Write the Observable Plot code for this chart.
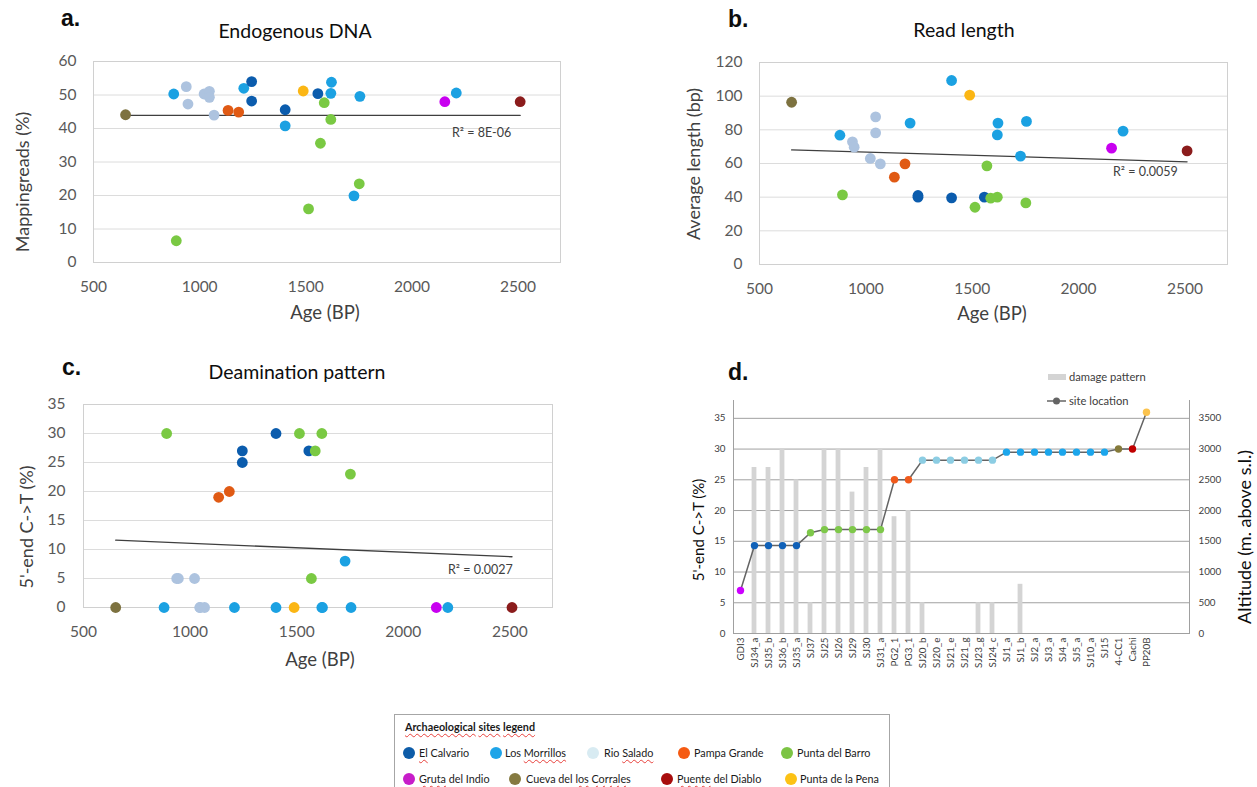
<!DOCTYPE html>
<html><head><meta charset="utf-8">
<script src="https://cdn.jsdelivr.net/npm/d3@7"></script>
<script src="https://cdn.jsdelivr.net/npm/@observablehq/plot@0.6"></script>
<style>
html,body{margin:0;padding:0;background:#fff;width:1257px;height:787px;overflow:hidden;}
#overlay{position:absolute;left:0;top:0;}
#legend{position:absolute;left:394px;top:714px;width:496px;height:90px;border:1px solid #a6a6a6;box-sizing:border-box;font-family:Lato,"Open Sans",sans-serif;font-size:10.8px;color:#1a1a1a;background:#fff;}
#legend .it{position:absolute;white-space:nowrap;line-height:12px;}
#legend .dotc{position:absolute;width:12px;height:12px;border-radius:50%;}
.sq{text-decoration:underline wavy #e8413c;text-decoration-thickness:1px;text-underline-offset:2px;}
</style></head><body>
<script>
// ---------- data ----------
const siteNames = ["El Calvario","Los Morrillos","Rio Salado","Pampa Grande","Punta del Barro","Gruta del Indio","Cueva del los Corrales","Puente del Diablo","Punta de la Pena"];
const scatterColors = ["#0b5cad","#1ba1e2","#adc3df","#e05a14","#7ac943","#c800f0","#7d7240","#8b1c1c","#fbb614"];
const locationColors = ["#1061b8","#1ca6ec","#8ccde3","#f05a1c","#7ec84a","#cc00ff","#857a3a","#c00000","#fbc34e"];
const legendColors = ["#0d5ca8","#1ea4e8","#d8ebf2","#f55a12","#7cc444","#c71dc9","#857a41","#a80d0d","#fcc215"];

const scatterSite = [
  "Cueva del los Corrales",
  "Los Morrillos","Los Morrillos","Los Morrillos","Los Morrillos","Los Morrillos","Los Morrillos","Los Morrillos","Los Morrillos",
  "Rio Salado","Rio Salado","Rio Salado","Rio Salado","Rio Salado","Rio Salado",
  "Pampa Grande","Pampa Grande",
  "El Calvario","El Calvario","El Calvario","El Calvario",
  "Punta del Barro","Punta del Barro","Punta del Barro","Punta del Barro","Punta del Barro","Punta del Barro",
  "Punta de la Pena","Gruta del Indio","Puente del Diablo"];
const scatterAge   = [651, 878,1208,1403,1618,1621,1727,1755,2209, 937,945,1021,1046,1046,1068, 1134,1184, 1245,1245,1403,1557, 890,1513,1569,1587,1618,1752, 1488,2155,2510];
const mappingReads = [44.1, 50.3,52,40.8,50.5,53.8,19.9,49.6,50.6, 52.5,47.3,50.3,51.1,49.3,44, 45.4,44.9, 54,48.2,45.6,50.4, 6.5,16,35.6,47.7,42.7,23.5, 51.2,48,48];
const readLength   = [96.4, 76.8,84,109.3,77,84,64.4,85,79.2, 72.9,69.7,63,87.7,78.2,59.8, 51.9,59.8, 41,40,39.6,40, 41.4,34,58.6,39.4,40,36.6, 100.6,69.1,67.5];
const deamination  = [0, 0,0,0,0,0,8,0,0, 5,5,5,0,0,0, 19,20, 27,25,30,27, 30,30,5,27,30,23, 0,0,0];

const ageTicks = [500,1000,1500,2000,2500];
const endoTicks = [0,10,20,30,40,50,60];
const lenTicks = [0,20,40,60,80,100,120];
const deamTicks = [0,5,10,15,20,25,30,35];

const trendAges = [651, 2510];
const trendEndo = [43.9, 43.9];
const trendLen = [68.1, 61.0];
const trendDeam = [11.6, 8.75];

const sampleNames = ["GDI3","SJ34_a","SJ35_b","SJ36_b","SJ35_a","SJ37","SJ25","SJ26","SJ29","SJ30","SJ31_a","PG2_1","PG3_1","SJ20_b","SJ20_e","SJ21_e","SJ21_g","SJ23_g","SJ24_c","SJ1_a","SJ1_b","SJ2_a","SJ3_a","SJ4_a","SJ5_a","SJ10_a","SJ15","4-CC1","Cachi","PP20B"];
const sampleSite = ["Gruta del Indio","El Calvario","El Calvario","El Calvario","El Calvario",
  "Punta del Barro","Punta del Barro","Punta del Barro","Punta del Barro","Punta del Barro","Punta del Barro",
  "Pampa Grande","Pampa Grande",
  "Rio Salado","Rio Salado","Rio Salado","Rio Salado","Rio Salado","Rio Salado",
  "Los Morrillos","Los Morrillos","Los Morrillos","Los Morrillos","Los Morrillos","Los Morrillos","Los Morrillos","Los Morrillos",
  "Cueva del los Corrales","Puente del Diablo","Punta de la Pena"];
const damagePattern = [0,27,27,30,25,5,30,30,23,27,30,19,20,5,0,0,0,5,5,0,8,0,0,0,0,0,0,0,0,0];
const altitude = [700,1430,1430,1430,1430,1640,1690,1690,1690,1690,1690,2500,2500,2820,2820,2820,2820,2820,2820,2950,2950,2950,2950,2950,2950,2950,2950,3000,3000,3600];
const altTicks = [0,500,1000,1500,2000,2500,3000,3500];

// ---------- build tables ----------
const FONT = "Lato, 'Open Sans', sans-serif";
const samples = scatterSite.map((s,i)=>({site:s, age:scatterAge[i], endo:mappingReads[i], len:readLength[i], deam:deamination[i]}));
const trend = vals => trendAges.map((a,i)=>({age:a, value:vals[i]}));
const dSamples = sampleNames.map((n,i)=>({name:n, site:sampleSite[i], damage:damagePattern[i], alt:altitude[i]}));

function place(node, left, top){
  node.style.position = "absolute";
  node.style.left = left + "px";
  node.style.top = top + "px";
  document.body.appendChild(node);
}

function scatterPanel(cfg){
  const p = Plot.plot({
    width: cfg.w, height: cfg.h,
    marginLeft: cfg.ml, marginRight: cfg.mr, marginTop: cfg.mt, marginBottom: cfg.mb,
    style: {fontFamily: FONT, fontSize: "15.5px", color: "#595959", background: "transparent", overflow: "visible"},
    x: {domain: [500, 2700]},
    y: {domain: cfg.yDomain},
    color: {domain: siteNames, range: scatterColors},
    marks: [
      Plot.gridY(cfg.yTicks, {stroke: "#dcdcdc", strokeOpacity: 1}),
      Plot.frame({stroke: "#d0d0d0"}),
      Plot.axisX(ageTicks, {tickSize: 0, tickPadding: 18, label: null, fontSize: 15.5, tickFormat: d => String(d)}),
      Plot.axisY(cfg.yTicks, {tickSize: 0, tickPadding: cfg.yPad, label: null, fontSize: 15.5, tickFormat: d => String(d)}),
      Plot.line(cfg.trend, {x: "age", y: "value", stroke: "#3f3f3f", strokeWidth: 1.3}),
      Plot.dot(samples, {x: "age", y: cfg.key, fill: "site", r: 5.4})
    ]
  });
  place(p, cfg.left, cfg.top);
}

scatterPanel({left:0, top:0, w:600, h:340, ml:93, mr:40, mt:61, mb:78, yDomain:[0,60], yTicks:endoTicks, yPad:17, key:"endo", trend:trend(trendEndo)});
scatterPanel({left:640, top:0, w:617, h:340, ml:119, mr:30, mt:62, mb:76, yDomain:[0,120], yTicks:lenTicks, yPad:17, key:"len", trend:trend(trendLen)});
scatterPanel({left:0, top:340, w:600, h:340, ml:83, mr:48, mt:64, mb:73, yDomain:[0,35], yTicks:deamTicks, yPad:18, key:"deam", trend:trend(trendDeam)});

// panel d
const dGrid = deamTicks.filter(d => d > 0);
const pd = Plot.plot({
  width: 617, height: 340, marginLeft: 93, marginRight: 68, marginTop: 40, marginBottom: 67,
  style: {fontFamily: FONT, fontSize: "9.8px", color: "#404040", background: "transparent", overflow: "visible"},
  x: {type: "band", domain: sampleNames, paddingInner: 0, paddingOuter: 0.5, align: 0},
  y: {domain: [0, 37.9]},
  color: {domain: siteNames, range: locationColors},
  marks: [
    Plot.gridY(dGrid, {stroke: "#a0a0a0", strokeOpacity: 1}),
    Plot.barY(dSamples, {x: "name", y: "damage", fill: "#d4d4d4", insetLeft: 4.6, insetRight: 4.6}),
    Plot.ruleY([0], {stroke: "#a0a0a0"}),
    Plot.frame({anchor: "left", stroke: "#a0a0a0"}),
    Plot.frame({anchor: "right", stroke: "#a0a0a0"}),
    Plot.line(dSamples, {x: "name", y: d => d.alt / 100, stroke: "#646464", strokeWidth: 1.5}),
    Plot.dot(dSamples, {x: "name", y: d => d.alt / 100, fill: "site", r: 3.7}),
    Plot.axisY(deamTicks, {anchor: "left", tickSize: 0, tickPadding: 8, label: null}),
    Plot.axisY(altTicks.map(a => a / 100), {anchor: "right", tickSize: 0, tickPadding: 9, label: null, tickFormat: d => String(Math.round(d * 100))}),
    Plot.axisX({tickRotate: -90, tickSize: 0, tickPadding: 4, label: null})
  ]
});
place(pd, 640, 360);

// ---------- overlay text ----------
const ov = d3.select(document.body).append("svg").attr("id","overlay").attr("width",1257).attr("height",787)
  .style("font-family", FONT);
function txt(s, x, y, o = {}){
  const t = ov.append("text").text(s)
    .attr("text-anchor", o.anchor || "middle")
    .attr("font-size", o.size || 17)
    .attr("fill", o.fill || "#0d0d0d")
    .attr("font-weight", o.weight || null);
  if (o.font) t.attr("font-family", o.font);
  if (o.rot) t.attr("transform", `translate(${x},${y}) rotate(-90)`);
  else t.attr("x", x).attr("y", y);
  return t;
}
const BOLD = "'Liberation Sans', Arial, sans-serif";
txt("a.", 61, 26, {anchor:"start", size:23, weight:"bold", font:BOLD});
txt("b.", 728, 27, {anchor:"start", size:23, weight:"bold", font:BOLD});
txt("c.", 62, 375, {anchor:"start", size:23, weight:"bold", font:BOLD});
txt("d.", 728, 380, {anchor:"start", size:23, weight:"bold", font:BOLD});
txt("Endogenous DNA", 295, 38, {size:19.5});
txt("Read length", 964, 37, {size:19.5});
txt("Deamination pattern", 297, 379, {size:19.5});

txt("Mappingreads (%)", 29, 182, {rot:true, size:18, fill:"#404040"});
txt("Age (BP)", 325, 319, {size:18.5, fill:"#404040"});
txt("Average length (bp)", 700, 164, {rot:true, size:18, fill:"#404040"});
txt("Age (BP)", 992, 320, {size:18.5, fill:"#404040"});
txt("5'-end C->T (%)", 33, 527, {rot:true, size:18, fill:"#404040"});
txt("Age (BP)", 320, 666, {size:18.5, fill:"#404040"});
txt("5'-end C->T (%)", 704, 530, {rot:true, size:15, fill:"#0d0d0d"});
txt("Altitude (m. above s.l.)", 1251, 537, {rot:true, size:18, fill:"#0d0d0d"});

txt("R² = 8E-06", 452, 137, {anchor:"start", size:12.5, fill:"#404040"});
txt("R² = 0.0059", 1113, 176, {anchor:"start", size:12.5, fill:"#404040"});
txt("R² = 0.0027", 448, 574, {anchor:"start", size:12.5, fill:"#404040"});

// panel d legend
ov.append("rect").attr("x",1048).attr("y",374).attr("width",18).attr("height",6).attr("fill","#d4d4d4");
txt("damage pattern", 1069, 381, {anchor:"start", size:11.2, fill:"#404040"});
ov.append("line").attr("x1",1047).attr("x2",1066).attr("y1",401).attr("y2",401).attr("stroke","#646464").attr("stroke-width",1.5);
ov.append("circle").attr("cx",1056.5).attr("cy",401).attr("r",3.5).attr("fill","#646464");
txt("site location", 1069, 405, {anchor:"start", size:11.2, fill:"#404040"});

// ---------- archaeological sites legend ----------
const lg = document.createElement("div");
lg.id = "legend";
document.body.appendChild(lg);
const title = document.createElement("div");
title.className = "it";
title.style.left = "10px"; title.style.top = "6px"; title.style.fontWeight = "bold";
title.innerHTML = '<span class="sq">Archaeological</span> <span class="sq">sites</span> <span class="sq">legend</span>';
lg.appendChild(title);
const legendLabels = [
  '<span class="sq">El</span> Calvario', 'Los <span class="sq">Morrillos</span>', 'Rio <span class="sq">Salado</span>',
  'Pampa Grande', 'Punta del Barro', '<span class="sq">Gruta</span> del Indio',
  'Cueva del <span class="sq">los</span> <span class="sq">Corrales</span>', '<span class="sq">Puente</span> del Diablo', 'Punta de la Pena'];
const legendDotX = [14,101,198,289,392, 14,120,272,396];
const legendTextX = [24,110,209,299,402, 24,131,282,405];
const legendRowY = [38,38,38,38,38, 64,64,64,64,64];
siteNames.forEach((s,i)=>{
  const c = document.createElement("div");
  c.className = "dotc";
  c.style.left = (legendDotX[i]-6) + "px"; c.style.top = (legendRowY[i]-6) + "px";
  c.style.background = legendColors[i];
  lg.appendChild(c);
  const t = document.createElement("div");
  t.className = "it";
  t.style.left = legendTextX[i] + "px"; t.style.top = (legendRowY[i]-6) + "px";
  t.innerHTML = legendLabels[i];
  lg.appendChild(t);
});
</script>
</body></html>
